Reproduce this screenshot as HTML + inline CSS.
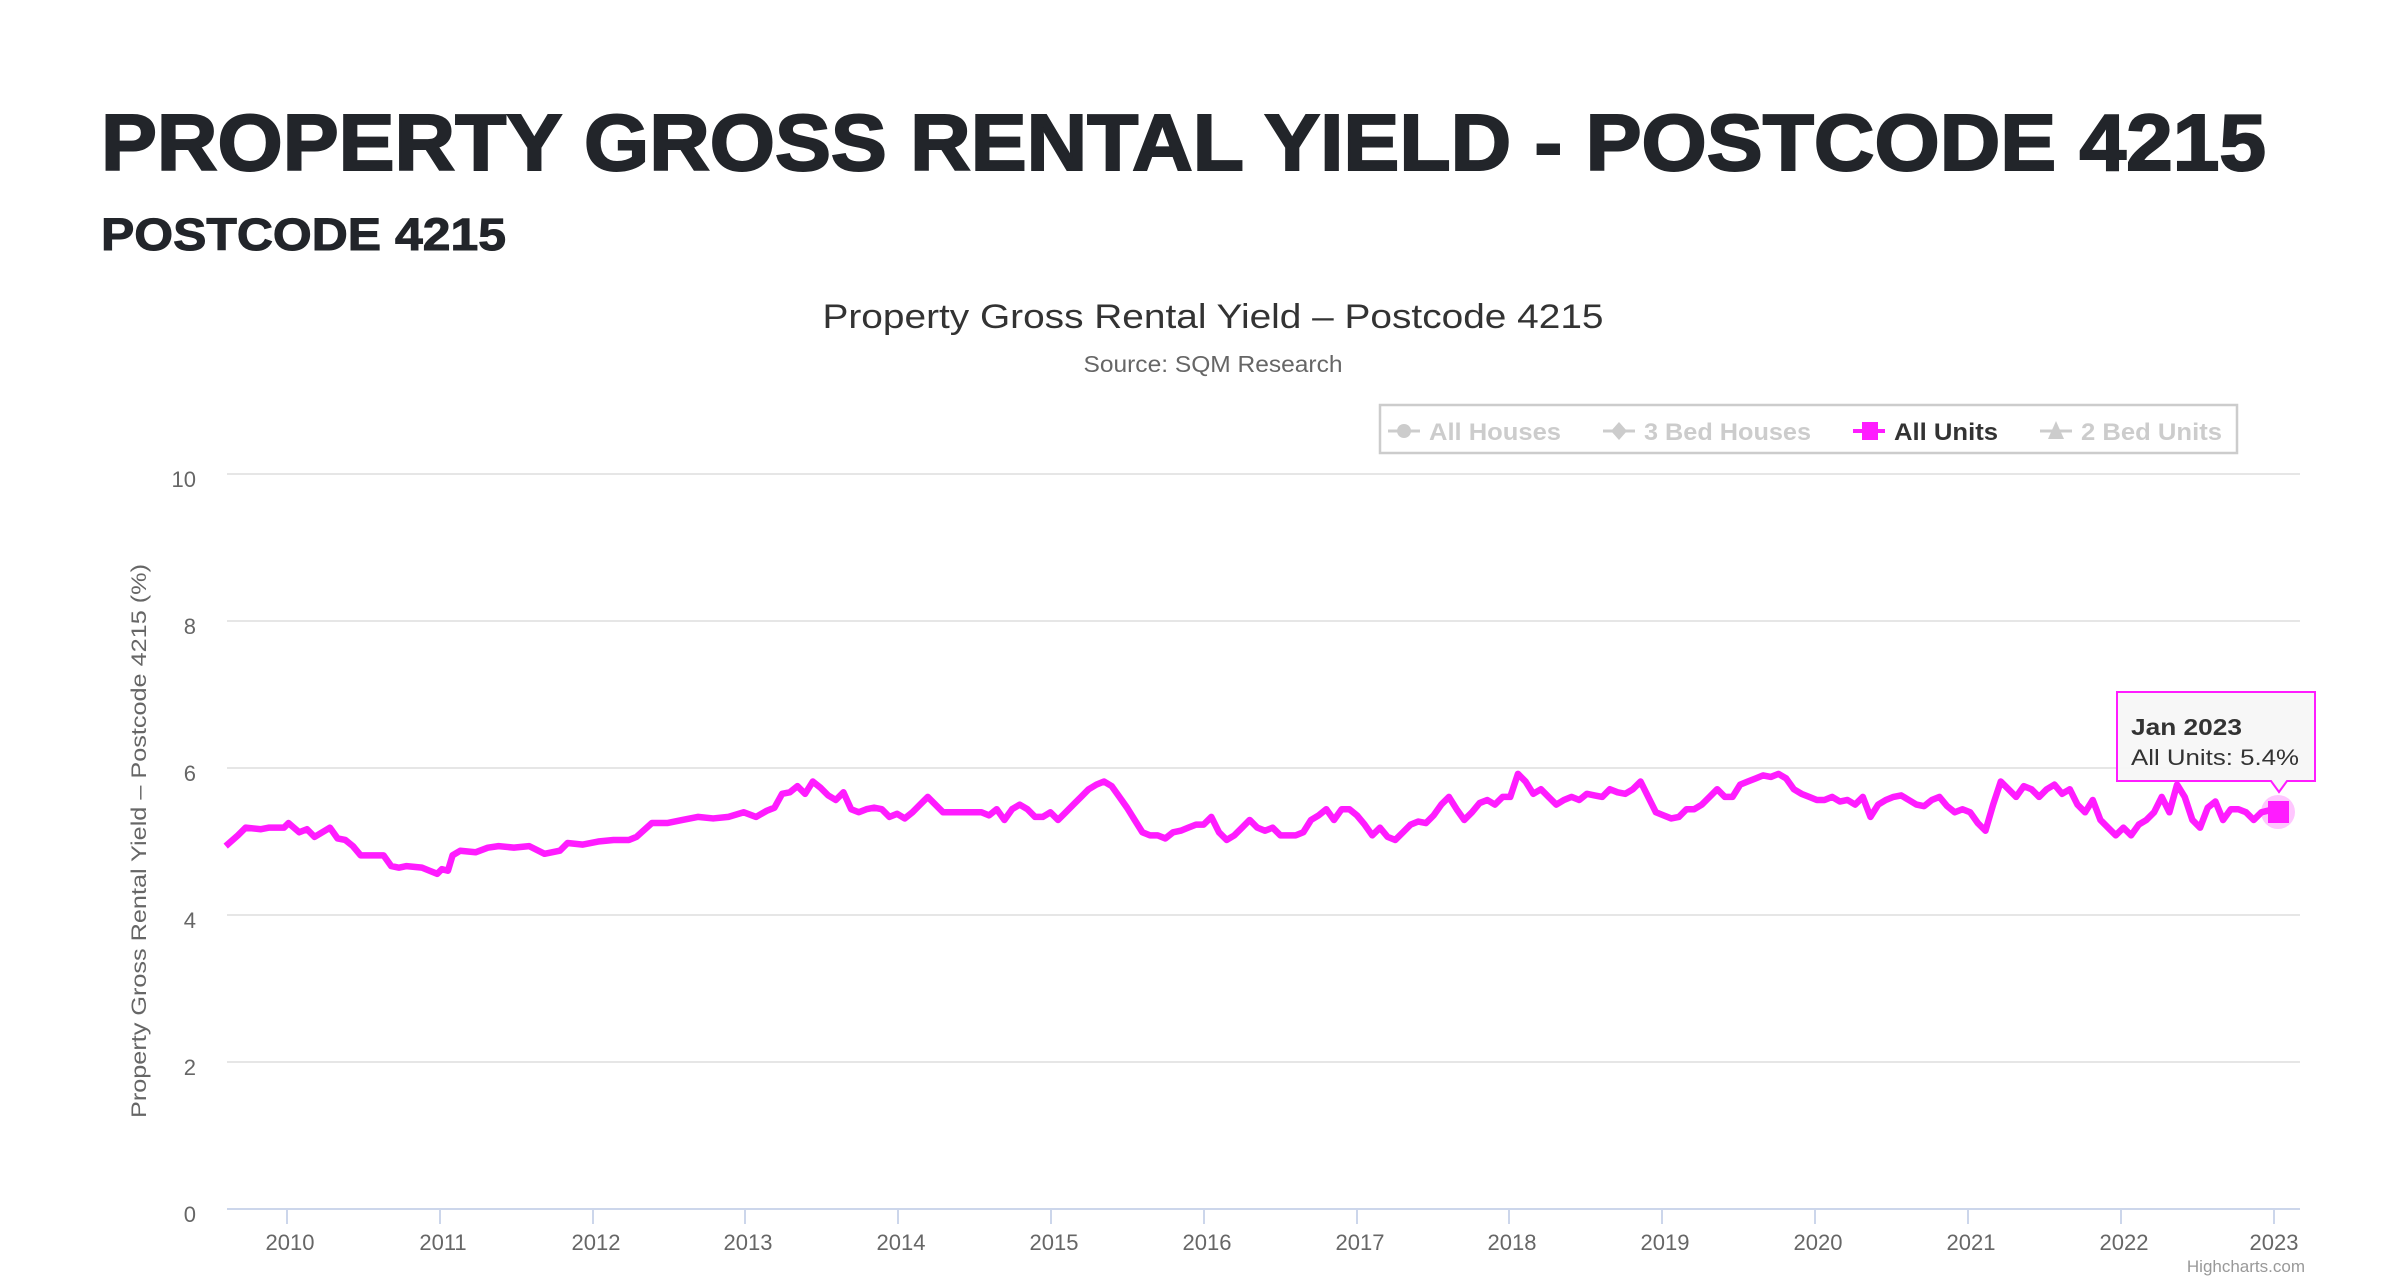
<!DOCTYPE html>
<html><head><meta charset="utf-8"><style>
html,body{margin:0;padding:0;background:#fff;}
svg{display:block;}
text{font-family:"Liberation Sans",sans-serif;}
</style></head><body>
<svg width="2406" height="1278" viewBox="0 0 2406 1278" xmlns="http://www.w3.org/2000/svg">
<rect width="2406" height="1278" fill="#fff"/>
<text x="101" y="170" font-size="80" font-weight="900" fill="#22252a" textLength="2165" lengthAdjust="spacingAndGlyphs" stroke="#22252a" stroke-width="2">PROPERTY GROSS RENTAL YIELD - POSTCODE 4215</text>
<text x="101" y="250" font-size="45" font-weight="900" fill="#22252a" textLength="405" lengthAdjust="spacingAndGlyphs" stroke="#22252a" stroke-width="1">POSTCODE 4215</text>
<text x="1213" y="328" font-size="34" fill="#333" text-anchor="middle" textLength="781" lengthAdjust="spacingAndGlyphs">Property Gross Rental Yield – Postcode 4215</text>
<text x="1213" y="372" font-size="23" fill="#666" text-anchor="middle" textLength="259" lengthAdjust="spacingAndGlyphs">Source: SQM Research</text>
<rect x="1380" y="405" width="857" height="48" fill="#fff" stroke="#ccc" stroke-width="2.5"/>
<g font-size="24" font-weight="bold">
<line x1="1388" y1="431" x2="1420" y2="431" stroke="#ccc" stroke-width="3"/><circle cx="1404" cy="431" r="7" fill="#ccc"/>
<text x="1429" y="440" fill="#ccc" textLength="132" lengthAdjust="spacingAndGlyphs">All Houses</text>
<line x1="1603" y1="431" x2="1635" y2="431" stroke="#ccc" stroke-width="3"/><path d="M1619 422 L1627 431 L1619 440 L1611 431Z" fill="#ccc"/>
<text x="1644" y="440" fill="#ccc" textLength="167" lengthAdjust="spacingAndGlyphs">3 Bed Houses</text>
<line x1="1853" y1="431" x2="1885" y2="431" stroke="#ff1cff" stroke-width="4"/><rect x="1862" y="422" width="16" height="18" fill="#ff1cff"/>
<text x="1894" y="440" fill="#333" textLength="104" lengthAdjust="spacingAndGlyphs">All Units</text>
<line x1="2040" y1="431" x2="2072" y2="431" stroke="#ccc" stroke-width="3"/><path d="M2056 421 L2064 439 L2048 439Z" fill="#ccc"/>
<text x="2081" y="440" fill="#ccc" textLength="141" lengthAdjust="spacingAndGlyphs">2 Bed Units</text>
</g>
<g stroke="#e6e6e6" stroke-width="2">
<line x1="227" y1="474" x2="2300" y2="474"/>
<line x1="227" y1="621" x2="2300" y2="621"/>
<line x1="227" y1="768" x2="2300" y2="768"/>
<line x1="227" y1="915" x2="2300" y2="915"/>
<line x1="227" y1="1062" x2="2300" y2="1062"/>
</g>
<line x1="227" y1="1209" x2="2300" y2="1209" stroke="#ccd6eb" stroke-width="2"/>
<g stroke="#ccd6eb" stroke-width="2">
<line x1="287" y1="1209" x2="287" y2="1224"/><line x1="440" y1="1209" x2="440" y2="1224"/><line x1="593" y1="1209" x2="593" y2="1224"/><line x1="745" y1="1209" x2="745" y2="1224"/><line x1="898" y1="1209" x2="898" y2="1224"/><line x1="1051" y1="1209" x2="1051" y2="1224"/><line x1="1204" y1="1209" x2="1204" y2="1224"/><line x1="1357" y1="1209" x2="1357" y2="1224"/><line x1="1509" y1="1209" x2="1509" y2="1224"/><line x1="1662" y1="1209" x2="1662" y2="1224"/><line x1="1815" y1="1209" x2="1815" y2="1224"/><line x1="1968" y1="1209" x2="1968" y2="1224"/><line x1="2121" y1="1209" x2="2121" y2="1224"/><line x1="2274" y1="1209" x2="2274" y2="1224"/>
</g>
<g font-size="22" fill="#666" text-anchor="end">
<text x="196" y="487">10</text><text x="196" y="634">8</text><text x="196" y="781">6</text><text x="196" y="928">4</text><text x="196" y="1075">2</text><text x="196" y="1222">0</text>
</g>
<g font-size="22" fill="#666" text-anchor="middle">
<text x="290" y="1250">2010</text><text x="443" y="1250">2011</text><text x="596" y="1250">2012</text><text x="748" y="1250">2013</text><text x="901" y="1250">2014</text><text x="1054" y="1250">2015</text><text x="1207" y="1250">2016</text><text x="1360" y="1250">2017</text><text x="1512" y="1250">2018</text><text x="1665" y="1250">2019</text><text x="1818" y="1250">2020</text><text x="1971" y="1250">2021</text><text x="2124" y="1250">2022</text><text x="2274" y="1250">2023</text>
</g>
<text transform="translate(146,841) rotate(-90)" font-size="21" fill="#666" text-anchor="middle" textLength="554" lengthAdjust="spacingAndGlyphs">Property Gross Rental Yield – Postcode 4215 (%)</text>
<text x="2305" y="1272" font-size="17" fill="#999" text-anchor="end">Highcharts.com</text>
<g transform="translate(0.35,-2.69) scale(1.5329,1.5377)">
<polyline fill="none" stroke="#ff1cff" stroke-width="6.5" vector-effect="non-scaling-stroke" stroke-linejoin="round" points="147,552 155,545 160,540 170,541 175,540 185,540 188,537 195,543 200,541 205,546 215,540 220,547 225,548 230,552 235,558 240,558 245,558 250,558 255,565 260,566 265,565 275,566 280,568 285,570 288,567 292,568 295,558 300,555 310,556 318,553 325,552 335,553 345,552 355,557 365,555 370,550 380,551 390,549 400,548 410,548 415,546 425,537 435,537 445,535 455,533 465,534 475,533 485,530 493,533 500,529 505,527 510,518 515,517 520,513 525,518 530,510 535,514 540,519 545,522 550,517 555,528 560,530 565,528 570,527 575,528 580,533 585,531 590,534 595,530 600,525 605,520 615,530 620,530 630,530 640,530 645,532 650,528 655,535 660,528 665,525 670,528 675,533 680,533 685,530 690,535 695,530 700,525 705,520 710,515 715,512 720,510 725,513 730,520 735,527 740,535 745,543 750,545 755,545 760,547 765,543 770,542 775,540 780,538 785,538 790,533 795,543 800,548 805,545 810,540 815,535 820,540 825,542 830,540 835,545 840,545 845,545 850,543 855,535 860,532 865,528 870,535 875,528 880,528 885,532 890,538 895,545 900,540 905,546 910,548 915,543 920,538 925,536 930,537 935,532 940,525 945,520 950,528 955,535 960,530 965,524 970,522 975,525 980,520 985,520 990,505 995,510 1000,518 1005,515 1010,520 1015,525 1020,522 1025,520 1030,522 1035,518 1040,519 1045,520 1050,515 1055,517 1060,518 1065,515 1070,510 1075,520 1080,530 1085,532 1090,534 1095,533 1100,528 1105,528 1110,525 1115,520 1120,515 1125,520 1130,520 1135,512 1140,510 1145,508 1150,506 1155,507 1160,505 1165,508 1170,515 1175,518 1180,520 1185,522 1190,522 1195,520 1200,523 1205,522 1210,525 1215,520 1220,533 1225,525 1230,522 1235,520 1240,519 1245,522 1250,525 1255,526 1260,522 1265,520 1270,526 1275,530 1280,528 1285,530 1290,537 1295,542 1300,525 1305,510 1310,515 1315,520 1320,513 1325,515 1330,520 1335,515 1340,512 1345,518 1350,515 1355,525 1360,530 1365,522 1370,535 1375,540 1380,545 1385,540 1390,545 1395,538 1400,535 1405,530 1410,520 1415,530 1420,512 1425,520 1430,535 1435,540 1440,527 1445,523 1450,535 1455,528 1460,528 1465,530 1470,535 1475,530 1483,528"/>
</g>
<circle cx="2278" cy="812" r="17" fill="#ff1cff" fill-opacity="0.25"/>
<rect x="2268" y="801" width="21" height="22" fill="#ff1cff"/>
<path d="M2117 692 H2315 V781 H2287 L2279 792 L2271 781 H2117 Z" fill="#f7f7f7" fill-opacity="0.95" stroke="#ff1cff" stroke-width="2"/>
<text x="2131" y="735" font-size="23" font-weight="bold" fill="#333" textLength="111" lengthAdjust="spacingAndGlyphs">Jan 2023</text>
<text x="2131" y="765" font-size="22" fill="#333" textLength="168" lengthAdjust="spacingAndGlyphs">All Units: 5.4%</text>
</svg>
</body></html>
